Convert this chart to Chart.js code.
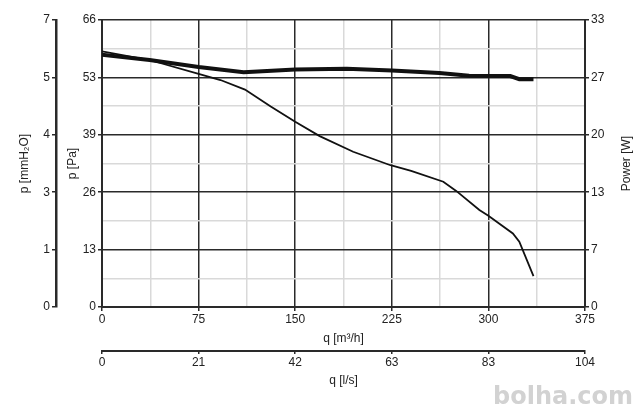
<!DOCTYPE html>
<html>
<head>
<meta charset="utf-8">
<script src="https://cdn.jsdelivr.net/npm/chart.js@4/dist/chart.umd.min.js"></script>
<style>
  html, body { margin: 0; padding: 0; background: #fff; }
  #wrap { position: relative; width: 640px; height: 412px; }
  #mark { position: absolute; right: 7px; bottom: 2px; font: bold 24px "DejaVu Sans", sans-serif; color: #d2d2d2; }
</style>
</head>
<body>
<div id="wrap">
  <canvas id="fan_chart" width="640" height="412"></canvas>
  <div id="mark">bolha.com</div>
</div>
<script>
// pressure curve, q [m3/h] -> p [Pa]
const pressureQ  = [0, 37, 75, 92, 111, 131, 150, 169, 195, 224, 240, 265, 275, 293, 300, 319, 324, 335];
const pressurePa = [58.8, 56.8, 53.6, 52.2, 50.0, 46.1, 42.6, 39.3, 35.7, 32.6, 31.3, 28.8, 26.7, 22.3, 21.0, 16.9, 15.0, 7.1];

// power curve, q [m3/h] -> P [W]
const powerQ = [0, 37, 75, 110, 150, 190, 225, 262, 285, 317, 324, 335];
const powerW = [29.0, 28.4, 27.6, 27.0, 27.3, 27.4, 27.2, 26.9, 26.6, 26.55, 26.2, 26.2];

// tick labels (major ticks only, minor grid lines sit halfway between)
const qLabels   = ['0', '75', '150', '225', '300', '375'];
const lsLabels  = ['0', '21', '42', '63', '83', '104'];
const paLabels  = ['0', '13', '26', '39', '53', '66'];
const mmLabels  = ['0', '1', '3', '4', '5', '7'];
const powLabels = ['0', '7', '13', '20', '27', '33'];

const qMax = 375, lsMax = 104, paMax = 66, mmMax = 66 / 9.80665, powMax = 33;

const dark = '#2a2a2a';
const light = '#d9d9d9';
const font = { family: '"Liberation Sans", Arial, sans-serif', size: 12 };

function halfSteps(max) {
    let out = [];
    for (let i = 0; i <= 10; i++) out.push({ value: max * i / 10 });
    return out;
}
function pick(labels) {
    return (v, i) => (i % 2 ? '' : labels[i / 2]);
}
const majorColor = c => (c.index % 2 ? light : dark);
const majorTick = c => (c.index % 2 ? 'rgba(0,0,0,0)' : dark);

const powerTitle = {
    id: 'powerTitle',
    afterDraw(chart) {
        const s = chart.scales.yPow;
        const c = chart.ctx;
        c.save();
        c.translate(s.right - 13, (chart.chartArea.top + chart.chartArea.bottom) / 2);
        c.rotate(-Math.PI / 2);
        c.font = '12px "Liberation Sans", Arial, sans-serif';
        c.fillStyle = '#222';
        c.textAlign = 'center';
        c.textBaseline = 'middle';
        c.fillText('Power [W]', 0, 0);
        c.restore();
    }
};

let ctx = document.getElementById('fan_chart');
let fanChart = new Chart(ctx, {
    type: 'scatter',
    plugins: [powerTitle],
    data: {
        datasets: [
            {
                label: 'p [Pa]',
                data: pressureQ.map((q, i) => ({ x: q, y: pressurePa[i] })),
                showLine: true,
                borderColor: '#111',
                borderWidth: 1.8,
                pointRadius: 0,
                xAxisID: 'x',
                yAxisID: 'y'
            },
            {
                label: 'Power [W]',
                data: powerQ.map((q, i) => ({ x: q, y: powerW[i] })),
                showLine: true,
                borderColor: '#111',
                borderWidth: 4,
                pointRadius: 0,
                xAxisID: 'x',
                yAxisID: 'yPow'
            }
        ]
    },
    options: {
        responsive: false,
        animation: false,
        layout: { padding: { top: 20, right: 0, bottom: 21, left: 0 } },
        plugins: { legend: { display: false }, tooltip: { enabled: false } },
        scales: {
            x: {
                type: 'linear', position: 'bottom', weight: 0,
                min: 0, max: qMax,
                afterBuildTicks: s => { s.ticks = halfSteps(qMax); },
                afterFit: s => { s.height = 44; },
                ticks: { autoSkip: false, maxRotation: 0, padding: 1, color: '#222', font: font, callback: pick(qLabels) },
                grid: { color: majorColor, tickColor: majorTick, lineWidth: 1.5, tickLength: 4 },
                border: { color: dark, width: 2 },
                title: { display: true, text: 'q [m³/h]', color: '#222', font: font, padding: { top: 0, bottom: 5 } }
            },
            xLs: {
                type: 'linear', position: 'bottom', weight: 1,
                min: 0, max: lsMax,
                afterBuildTicks: s => { s.ticks = halfSteps(lsMax); },
                afterFit: s => { s.height = 40; },
                ticks: { autoSkip: false, maxRotation: 0, padding: 1, color: '#222', font: font, callback: pick(lsLabels) },
                grid: { drawOnChartArea: false, tickColor: majorTick, lineWidth: 1.5, tickLength: 3 },
                border: { color: dark, width: 2 },
                title: { display: true, text: 'q [l/s]', color: '#222', font: font, padding: { top: 0, bottom: 3 } }
            },
            y: {
                type: 'linear', position: 'left', weight: 0,
                min: 0, max: paMax,
                afterBuildTicks: s => { s.ticks = halfSteps(paMax); },
                afterFit: s => { s.width = 46; },
                ticks: { autoSkip: false, padding: 2, color: '#222', font: font, callback: pick(paLabels) },
                grid: { color: majorColor, tickColor: majorTick, lineWidth: 1.5, tickLength: 4 },
                border: { color: dark, width: 2 },
                title: { display: true, text: 'p [Pa]', color: '#222', font: font, padding: { top: 9, bottom: 0 } }
            },
            yMm: {
                type: 'linear', position: 'left', weight: 1,
                min: 0, max: mmMax,
                afterBuildTicks: s => { s.ticks = halfSteps(mmMax); },
                afterFit: s => { s.width = 56; },
                ticks: { autoSkip: false, padding: 2, color: '#222', font: font, callback: pick(mmLabels) },
                grid: { drawOnChartArea: false, tickColor: majorTick, lineWidth: 1.5, tickLength: 4 },
                border: { color: dark, width: 2.5 },
                title: { display: true, text: 'p [mmH₂O]', color: '#222', font: font, padding: { top: 17, bottom: 0 } }
            },
            yPow: {
                type: 'linear', position: 'right',
                min: 0, max: powMax,
                afterBuildTicks: s => { s.ticks = halfSteps(powMax); },
                afterFit: s => { s.width = 55; },
                ticks: { autoSkip: false, padding: 2, color: '#222', font: font, callback: pick(powLabels) },
                grid: { drawOnChartArea: false, tickColor: majorTick, lineWidth: 1.5, tickLength: 4 },
                border: { color: dark, width: 2 }
            }
        }
    }
});
</script>
</body>
</html>
